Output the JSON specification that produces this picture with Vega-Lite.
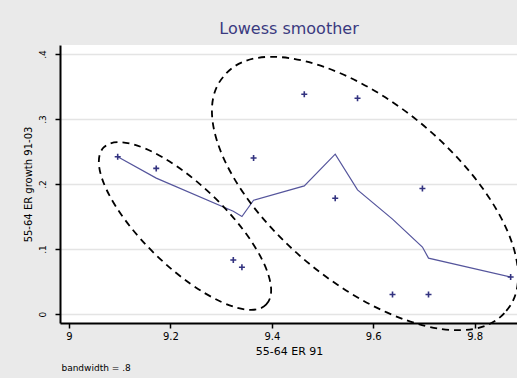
{
  "$schema": "https://vega.github.io/schema/vega-lite/v6.json",
  "width": 458,
  "height": 278,
  "autosize": "none",
  "padding": {"left": 60, "top": 45, "right": 0, "bottom": 55},
  "background": "#eaeaea",
  "title": {
    "text": "Lowess smoother",
    "font": "DejaVu Sans",
    "fontSize": 16,
    "fontWeight": "normal",
    "color": "#3a3a80",
    "anchor": "middle",
    "frame": "group",
    "offset": 8
  },
  "config": {
    "font": "DejaVu Sans",
    "view": {"fill": "white", "stroke": null}
  },
  "datasets": {
    "obs": [
      {"x": 9.096, "y": 0.242, "fit": 0.242},
      {"x": 9.172, "y": 0.224, "fit": 0.209},
      {"x": 9.324, "y": 0.083, "fit": 0.158},
      {"x": 9.341, "y": 0.072, "fit": 0.150},
      {"x": 9.364, "y": 0.240, "fit": 0.175},
      {"x": 9.464, "y": 0.338, "fit": 0.197},
      {"x": 9.525, "y": 0.178, "fit": 0.246},
      {"x": 9.569, "y": 0.332, "fit": 0.191},
      {"x": 9.638, "y": 0.030, "fit": 0.146},
      {"x": 9.697, "y": 0.193, "fit": 0.103},
      {"x": 9.709, "y": 0.030, "fit": 0.086},
      {"x": 9.871, "y": 0.057, "fit": 0.057}
    ],
    "groups": [
      {"x": 9.2287, "y": 0.1354, "grp": "left"},
      {"x": 9.5838, "y": 0.1854, "grp": "right"}
    ]
  },
  "layer": [
    {
      "data": {"name": "obs"},
      "mark": {"type": "line", "color": "#55559c", "strokeWidth": 1.2},
      "encoding": {
        "x": {
          "field": "x",
          "type": "quantitative",
          "title": "55-64 ER 91",
          "scale": {"domain": [8.9822, 9.8855], "nice": false, "zero": false},
          "axis": {
            "values": [9, 9.2, 9.4, 9.6, 9.8],
            "format": "~g",
            "grid": false,
            "domainColor": "black",
            "domainWidth": 2,
            "tickColor": "black",
            "tickWidth": 1.5,
            "tickSize": 5,
            "labelColor": "black",
            "labelFontSize": 10,
            "labelPadding": 3,
            "titleColor": "black",
            "titleFontSize": 11,
            "titleFontWeight": "normal",
            "titlePadding": 4
          }
        },
        "y": {
          "field": "fit",
          "type": "quantitative",
          "title": "55-64 ER growth 91-03",
          "scale": {"domain": [-0.0138, 0.4138], "nice": false, "zero": false},
          "axis": {
            "values": [0, 0.1, 0.2, 0.3, 0.4],
            "labelExpr": "datum.value == 0 ? '0' : replace(format(datum.value, '.1f'), '0.', '.')",
            "labelAngle": -90,
            "grid": true,
            "gridColor": "#e4e4e4",
            "gridWidth": 1.5,
            "domainColor": "black",
            "domainWidth": 2,
            "tickColor": "black",
            "tickWidth": 1.5,
            "tickSize": 5,
            "labelColor": "black",
            "labelFontSize": 9,
            "labelPadding": 8,
            "titleColor": "black",
            "titleFontSize": 10,
            "titleFontWeight": "normal",
            "titlePadding": 5
          }
        }
      }
    },
    {
      "data": {"name": "obs"},
      "mark": {
        "type": "point",
        "shape": "M-1,0H1M0,-1V1",
        "filled": false,
        "stroke": "#333380",
        "strokeWidth": 1.6,
        "opacity": 1,
        "size": 36
      },
      "encoding": {
        "x": {"field": "x", "type": "quantitative", "title": "55-64 ER 91"},
        "y": {"field": "y", "type": "quantitative", "title": "55-64 ER growth 91-03"}
      }
    },
    {
      "data": {"name": "groups"},
      "mark": {
        "type": "point",
        "filled": false,
        "stroke": "black",
        "strokeWidth": 1.8,
        "strokeDash": [7, 5],
        "opacity": 1,
        "size": 4
      },
      "encoding": {
        "x": {"field": "x", "type": "quantitative", "title": "55-64 ER 91"},
        "y": {"field": "y", "type": "quantitative", "title": "55-64 ER growth 91-03"},
        "shape": {
          "field": "grp",
          "type": "nominal",
          "legend": null,
          "scale": {
            "domain": ["left", "right"],
            "range": [
              "M81.3,78.5A113,41,44,1,0,-81.3,-78.5A113,41,44,1,0,81.3,78.5Z",
              "M141.2,117.3A183.6,88,39.7,1,0,-141.2,-117.3A183.6,88,39.7,1,0,141.2,117.3Z"
            ]
          }
        }
      }
    },
    {
      "data": {"values": [{"note": "bandwidth = .8"}]},
      "mark": {"type": "text", "align": "left", "baseline": "middle", "fontSize": 9, "color": "black"},
      "encoding": {
        "x": {"datum": 8.985},
        "y": {"datum": -0.083},
        "text": {"field": "note"}
      }
    }
  ]
}
